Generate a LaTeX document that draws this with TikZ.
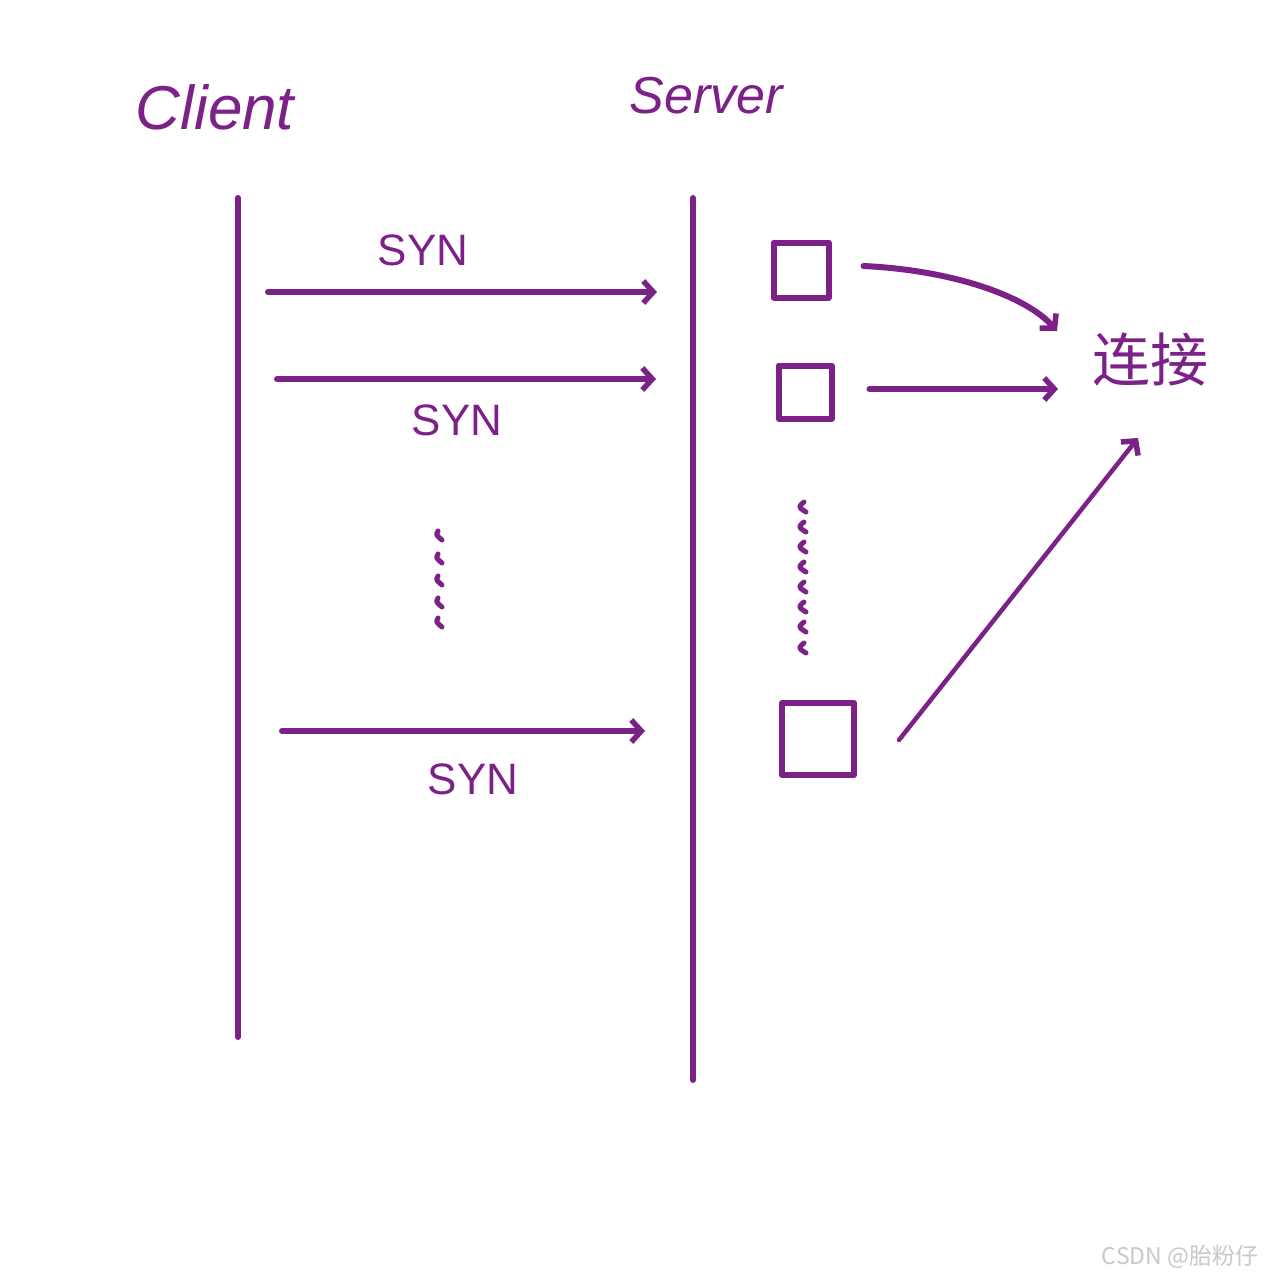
\documentclass[tikz,border=0pt]{standalone}
\usepackage{fontspec}
\setmainfont{Liberation Sans}
\newfontfamily\cjk{Noto Sans CJK SC}
\usetikzlibrary{arrows.meta}
\definecolor{pen}{RGB}{124,33,136}
\definecolor{wm}{RGB}{200,200,200}
\tikzset{
  x=1pt,y=-1pt,
  pen/.style={draw=pen,line width=6pt,line cap=round,line join=round},
  msg/.style={pen,-{Straight Barb[length=10pt,width=22pt,line width=5.5pt]}},
  life/.style={pen,line width=6pt},
  lbl/.style={text=pen,font=\fontsize{44}{44}\selectfont,inner sep=0pt},
  head/.style={text=pen,font=\fontsize{62}{62}\selectfont\itshape,inner sep=0pt},
  slot/.style={pen,minimum width=#1,minimum height=#1,inner sep=0pt},
  tick/.style={pen,line width=5pt},
}
\begin{document}
\begin{tikzpicture}
\useasboundingbox (0,0) rectangle (1265,1278);
\fill[white] (0,0) rectangle (1265,1278);

% headers
\node[head] (client) at (215,107) {Client};
\node[head,font=\fontsize{52}{52}\selectfont\itshape] (server) at (706,96) {Server};

% lifelines
\coordinate (c0) at (238,198);
\coordinate (c1) at (238,1037);
\coordinate (s0) at (693,198);
\coordinate (s1) at (693,1080);
\draw[life] (c0) -- (c1);
\draw[life] (s0) -- (s1);

% SYN messages
\coordinate (a1s) at (268,292); \coordinate (a1e) at (657,292);
\coordinate (a2s) at (277,379); \coordinate (a2e) at (656,379);
\coordinate (a3s) at (282,731); \coordinate (a3e) at (645,731);
\draw[msg] (a1s) -- (a1e);
\draw[msg] (a2s) -- (a2e);
\draw[msg] (a3s) -- (a3e);
\node[lbl] (syn1) at (423,250) {SYN};
\node[lbl] (syn2) at (457,420) {SYN};
\node[lbl] (syn3) at (473,779) {SYN};

% left dots
\foreach \y in {535,558,580,602,622}
  \draw[tick] (438,\y-4) .. controls (436,\y) .. (442,\y+5);

% queue slots
\node[slot=55pt] (b1) at (801,270) {};
\node[slot=53pt] (b2) at (805,392) {};
\node[slot=72pt] (b3) at (818,739) {};

% server dots
\foreach \y in {507,527,547,567,587,607,627,648}
  \draw[tick] (804,\y-5) .. controls (798,\y) .. (806,\y+5);

% connection target
\node[text=pen,font=\cjk\fontsize{58}{58}\selectfont,inner sep=0pt] (conn) at (1150,360) {连接};
\coordinate (t1) at (1057,331);
\coordinate (t2) at (1058,389);
\coordinate (t3) at (1138,438);
\draw[msg] (b1.east) ++(32,-4) coordinate (f1) .. controls (950,270) and (1025,295) .. (t1);
\draw[msg] (b2.east) ++(35,-3) coordinate (f2) -- (t2);
\draw[msg,line width=4.5pt] (b3.east) ++(42,1) coordinate (f3) -- (t3);

% watermark
\node[text=wm,font=\cjk\fontsize{23}{23}\selectfont,inner sep=0pt] (wmk) at (1180,1257) {CSDN @胎粉仔};
\end{tikzpicture}
\end{document}
